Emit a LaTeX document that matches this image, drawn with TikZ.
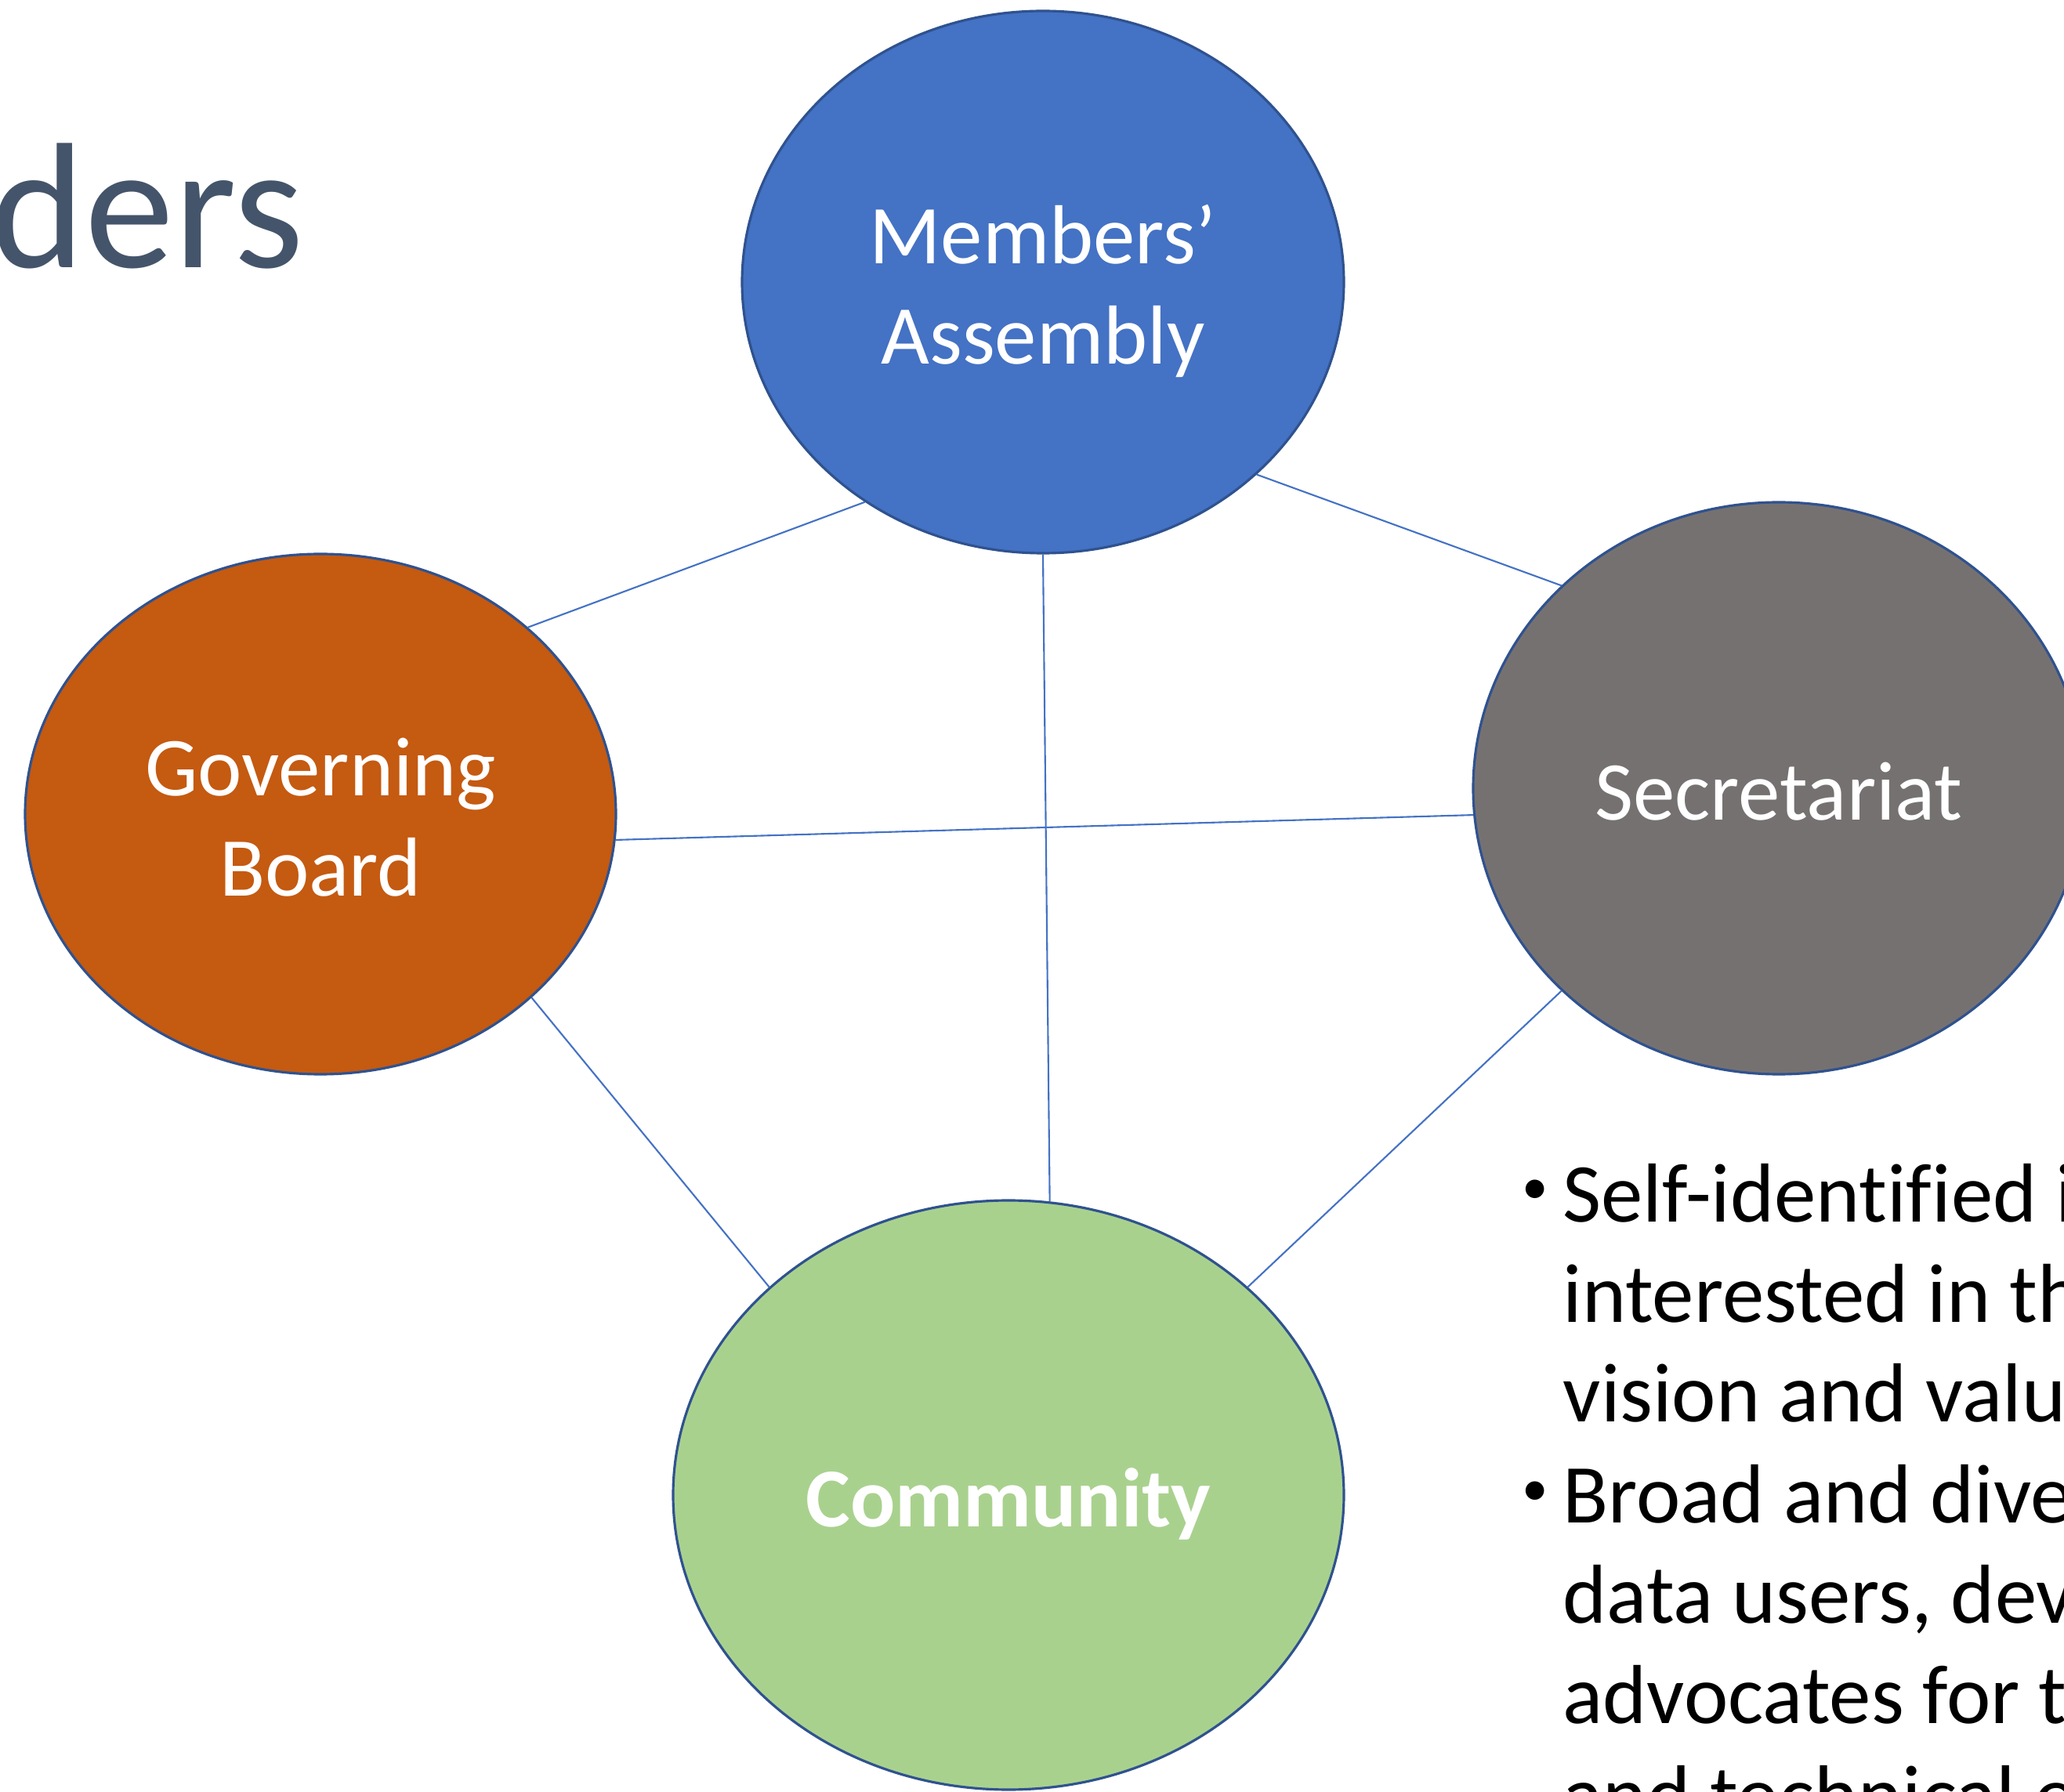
\documentclass[tikz,border=0pt]{standalone}
\usepackage{fontspec}
\setmainfont{Carlito}[Ligatures=NoCommon]
\usetikzlibrary{shapes.geometric}
\definecolor{assemblyblue}{HTML}{4472C4}
\definecolor{boardorange}{HTML}{C55A11}
\definecolor{secgray}{HTML}{767171}
\definecolor{comgreen}{HTML}{A9D18E}
\definecolor{rimblue}{HTML}{2F528F}
\definecolor{titlegray}{HTML}{44546A}
\newcommand{\topstrut}{\rule[-0.26cm]{0pt}{1.33cm}}
\newcommand{\botstrut}{\rule[-0.26cm]{0pt}{0.26cm}}

\begin{document}
\begin{tikzpicture}
    \tikzstyle{blob}=[ellipse, draw=rimblue, line width=0.9pt, inner sep=0pt, text=white, align=center,
      font=\fontsize{30.4}{36.4}\selectfont]
    \tikzstyle{link}=[draw=assemblyblue, line width=0.6pt]
    \tikzstyle{body}=[anchor=base west, inner sep=0pt, font=\fontsize{30.4}{36.4}\selectfont]
    \tikzstyle{dot}=[anchor=center, inner sep=0pt, font=\fontsize{19}{23}\selectfont]

    \useasboundingbox (0,0) rectangle (26.34,-22.87);
    \clip (0,0) rectangle (26.34,-22.87);

    \node[anchor=base west, inner sep=0pt, text=titlegray, font=\fontsize{65}{78}\selectfont] (title) at (-0.12,-3.42) {ders};

    \node[blob, fill=assemblyblue, minimum width=7.68cm, minimum height=6.92cm] (ma) at (13.31,-3.60) {\topstrut Members’\\Assembly\botstrut};
    \node[blob, fill=boardorange, minimum width=7.54cm, minimum height=6.64cm] (gb) at (4.09,-10.39) {\topstrut Governing\\Board\botstrut};
    \node[blob, fill=secgray, minimum width=7.80cm, minimum height=7.30cm] (sec) at (22.70,-10.06) {\topstrut Secretariat};
    \node[blob, fill=comgreen, minimum width=8.56cm, minimum height=7.52cm, font=\fontsize{30.4}{36.4}\selectfont\bfseries] (com) at (12.87,-19.08) {\topstrut Community};

    \path (ma.-129) edge[link] (gb.42);
    \path (ma.-42) edge[link] (sec.137);
    \path (ma.-90) edge[link] (com.82);
    \path (gb.-5) edge[link] (sec.-175);
    \path (gb.-41) edge[link] (com.139);
    \path (sec.-137) edge[link] (com.41);

    \node[dot] (bulA) at (19.59,-15.21) {•};
    \node[body] (selfA) at (19.94,-15.59) {Self-identified i};
    \node[body] (selfB) at (19.94,-16.87) {interested in th};
    \node[body] (selfC) at (19.94,-18.15) {vision and valu};
    \node[dot] (bulB) at (19.59,-19.06) {•};
    \node[body] (broadA) at (19.94,-19.43) {Broad and dive};
    \node[body] (broadB) at (19.94,-20.71) {data users, dev};
    \node[body] (broadC) at (19.94,-21.99) {advocates for t};
    \node[body] (broadD) at (19.94,-23.27) {and technical e};
  \end{tikzpicture}
\end{document}
